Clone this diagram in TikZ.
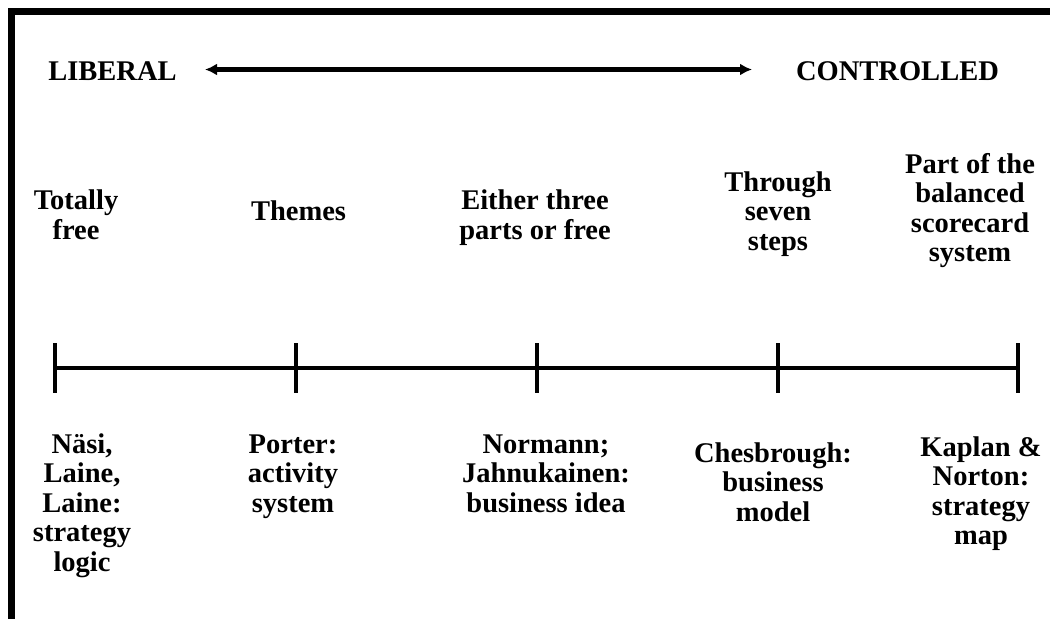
\documentclass[tikz,border=0pt]{standalone}
\usepackage{fontspec}
\setmainfont{Liberation Serif}
\usetikzlibrary{arrows.meta}
% fixed height for the first line of every label
\newcommand{\firstln}{\rule{0pt}{21pt}}
\begin{document}
\begin{tikzpicture}[x=1pt,y=-1pt,
  lbl/.style={font=\fontsize{28.5}{29.5}\selectfont\bfseries, align=center,
              inner sep=0pt, anchor=north},
  head/.style={font=\fontsize{28.5}{29.5}\selectfont\bfseries, inner sep=0pt,
               anchor=base},
  frame/.style={line width=6.7pt, line join=miter},
  scale line/.style={line width=4.7pt},
  tick/.style={line width=4.5pt},
  range arrow/.style={line width=4.7pt,
    {Latex[length=12pt,width=12pt]}-{Latex[length=12pt,width=12pt]}}]
  \useasboundingbox (0,0) rectangle (1050,619);

  % frame on the top and left edges
  \draw[frame] (1050,11.7) -- (11.7,11.7) -- (11.7,619);

  % the two ends of the range
  \node[head] (lib) at (112.5,80) {LIBERAL};
  \node[head] (ctl) at (897.5,80) {CONTROLLED};
  \coordinate (aL) at (205,69.5);
  \coordinate (aR) at (752,69.5);
  \draw[range arrow] (aL) -- (aR);

  % the scale with its five marks
  \foreach \i/\x in {1/55,2/296,3/537,4/778,5/1018}{
    \coordinate (p\i) at (\x,368);
    \coordinate (p\i t) at (\x,343.3);
    \coordinate (p\i b) at (\x,392.7);
  }
  \draw[scale line] (p1) -- (p5);
  \foreach \i in {1,...,5}{
    \draw[tick] (p\i t) -- (p\i b);
  }

  % how the strategy is described
  \node[lbl] (t1) at (76,188.5) {\firstln Totally\\free};
  \node[lbl] (t2) at (298.5,199) {\firstln Themes};
  \node[lbl] (t3) at (535,188.5) {\firstln Either three\\parts or free};
  \node[lbl] (t4) at (778,170) {\firstln Through\\seven\\steps};
  \node[lbl] (t5) at (970,152) {\firstln Part of the\\balanced\\scorecard\\system};

  % the approaches
  \node[lbl] (b1) at (82,432) {\firstln Näsi,\\Laine,\\Laine:\\strategy\\logic};
  \node[lbl] (b2) at (293,432) {\firstln Porter:\\activity\\system};
  \node[lbl] (b3) at (546,432) {\firstln Normann;\\Jahnukainen:\\business idea};
  \node[lbl] (b4) at (773,441) {\firstln Chesbrough:\\business\\model};
  \node[lbl] (b5) at (981,435) {\firstln Kaplan \&\\Norton:\\strategy\\map};
\end{tikzpicture}
\end{document}
